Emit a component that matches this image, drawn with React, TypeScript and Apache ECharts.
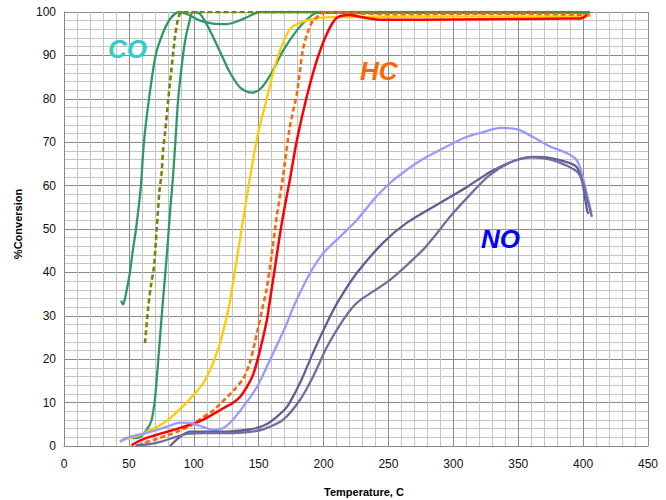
import React, { useEffect, useRef } from "react";
import * as echarts from "echarts";

const xTicks = [0, 50, 100, 150, 200, 250, 300, 350, 400, 450];
const yTicks = [0, 10, 20, 30, 40, 50, 60, 70, 80, 90, 100];

// CO curves
const coA: number[][] = [
  [44, 33.5], [45.5, 32.6], [47, 34], [49, 37], [50.8, 40], [53, 45], [55.5, 50], [57.5, 55],
  [59.3, 60], [61.6, 70], [65.5, 80], [70.6, 90], [76, 95], [82, 98.5], [89, 100], [95, 99.5],
  [105, 98], [115, 97.3], [125, 97.2], [135, 98], [141, 98.8], [151, 100], [200, 100], [250, 100],
  [300, 100], [350, 100], [405, 100],
];
const coB: number[][] = [
  [52, 1.8], [58.5, 2.1], [63.7, 3.7], [67.5, 6], [70, 10.6], [71.4, 15.2], [72.8, 20.5], [74.5, 27],
  [76.3, 33.6], [79.5, 45], [82, 55], [84, 62], [86, 71], [88, 80], [90.5, 87], [93, 92.8],
  [96, 97], [99.5, 100], [105, 99.5], [112, 96], [120, 91], [128, 86], [136, 82.5], [144.6, 81.4],
  [152, 82.5], [160, 86], [169, 91.2], [180, 96], [188, 98.5], [195, 99.8], [250, 99.8],
  [300, 99.8], [350, 99.8], [405, 99.8],
];
const coDash: number[][] = [
  [62.4, 23.7], [64.9, 32], [67, 37], [69.3, 41.3], [71.4, 49.8], [73.4, 58.3], [75.2, 62.9],
  [76.3, 68], [77.8, 72], [80.3, 79.7], [83, 87.3], [85.5, 94.2], [88, 98.5], [90.7, 100],
  [150, 100], [250, 100], [350, 100], [400, 100],
];
// HC curves
const hcYellow: number[][] = [
  [43, 1], [50, 1.8], [58.5, 2.5], [66, 3.6], [74, 4.8], [82, 6.5], [89.4, 8.5], [96, 10.5],
  [102, 12.5], [108, 14.8], [114, 18.5], [120, 23.5], [124, 28], [128, 33.6], [135, 46.5],
  [143, 61.3], [149.5, 72], [156, 79.7], [164, 89], [174, 96], [187, 98], [207, 98.8],
  [250, 98.9], [300, 99], [350, 99], [400, 99], [406, 99.2],
];
const hcDash: number[][] = [
  [57, 0], [61, 0.7], [70, 1.5], [79, 2.4], [88, 3.4], [97, 4.6], [105, 6.2], [115, 8.2],
  [122, 10.2], [130, 12.6], [138, 15.5], [143, 19], [148.7, 26], [152.5, 31.3], [156, 36],
  [160, 44], [164, 53], [168.7, 62], [174, 73.5], [179.5, 81.3], [184, 91.2], [188, 95.5],
  [192, 98], [202.6, 100], [215, 99.8], [250, 99.5], [300, 99.6], [350, 99.6], [400, 99.4],
  [406.8, 99.6],
];
const hcRed: number[][] = [
  [52, 0.2], [58, 1.2], [66, 2.1], [75, 2.9], [84, 3.7], [93, 4.5], [102, 5.4], [110, 6.5],
  [117.6, 7.8], [124, 8.9], [130, 9.9], [135.6, 11.3], [140.7, 13.5], [145.8, 16.5], [151, 22],
  [156.3, 29], [158.7, 33.6], [162, 40], [166, 48], [170, 55], [174, 61.3], [179.5, 70.5],
  [187, 80.4], [195, 89], [202.6, 95], [210, 98.6], [220, 99.3], [233, 98.6], [246, 98.2],
  [300, 98.3], [350, 98.4], [390, 98.5], [398, 98.5], [403, 99.3],
];
// NO curves
const noLight: number[][] = [
  [43, 1], [48, 1.8], [56, 2.5], [66, 3.2], [79, 4.4], [89.4, 5.4], [97, 5.3], [107, 4.4],
  [115, 3.7], [122.5, 4.1], [130, 6], [138, 9], [148.7, 13.6], [158.7, 19.8], [171.8, 28.3],
  [176.7, 32], [189.5, 39.8], [199.7, 44.4], [212.6, 48.2], [225.5, 52], [238.4, 56.7],
  [251.2, 60.6], [264, 63.6], [276, 66], [289.7, 68.2], [310, 71.2], [323, 72.3], [336, 73.3],
  [348.8, 73], [361.4, 71.2], [374.5, 69], [387.3, 67.5], [395, 65.9], [398.9, 62.9],
  [402.7, 58.3], [406.5, 53.7],
];
const noDark: number[][] = [
  [81.7, 0], [89.4, 2.1], [97, 3.3], [112.5, 3.3], [125, 3.3], [143, 3.8], [150, 4.3],
  [156, 5], [163, 6.5], [171.8, 9], [181.8, 14.5], [191.8, 21.4], [202, 28], [211, 33.2],
  [225.5, 39.8], [245.8, 46.8], [264, 51.4], [289.7, 56], [310.5, 59.7], [328, 63.1],
  [336, 64.3], [349, 65.9], [361.4, 66.6], [374, 66.4], [387.5, 65.4], [395, 64.3],
  [399, 61.3], [403, 54.4], [404, 53.5],
];
const noMid: number[][] = [
  [55, 0.2], [65, 0.4], [75, 1], [85, 2], [95, 2.8], [110, 3], [130, 3], [145, 3.3],
  [155, 4], [168.7, 6], [181.8, 10.6], [191.8, 15.9], [202.6, 22.8], [215, 29], [222.7, 32.1],
  [230, 34], [251, 38.2], [276.6, 45.2], [284.6, 48], [297.4, 52.8], [310, 57], [328, 62.4],
  [345, 65.5], [360, 66.5], [375, 66], [388, 64.5], [396, 63], [400, 60.5], [403, 57],
  [406.8, 52.8],
];

const labels = [
  { text: "CO", x: 108, y: 36, color: "#33CCCC" },
  { text: "HC", x: 360, y: 58, color: "#FF6600" },
  { text: "NO", x: 481, y: 226, color: "#0000FF" },
];

export default function App() {
  const ref = useRef<HTMLDivElement>(null);
  useEffect(() => {
    if (!ref.current) return;
    const chart = echarts.init(ref.current, undefined, { renderer: "svg" });
    const mk = (name: string, data: number[][], color: string, dashed = false, width = 2.3) => ({
      name,
      type: "line",
      data,
      smooth: 0.3,
      showSymbol: false,
      symbol: "none",
      lineStyle: { color, width, type: dashed ? [5, 3] : "solid" },
      z: 3,
    });
    chart.setOption({
      animation: false,
      backgroundColor: "#ffffff",
      grid: { left: 64, right: 18, top: 12, bottom: 54, containLabel: false },
      xAxis: {
        type: "value",
        min: xTicks[0],
        max: xTicks[xTicks.length - 1],
        interval: 50,
        axisLine: { show: true, lineStyle: { color: "#888888", width: 1 } },
        axisTick: { show: false },
        axisLabel: {
          color: "#111",
          fontSize: 12,
          fontFamily: "Liberation Sans, Arial, sans-serif",
          margin: 12,
        },
        splitLine: { show: true, lineStyle: { color: "#8c8c8c", width: 1 } },
        minorTick: { show: false, splitNumber: 5 },
        minorSplitLine: { show: true, lineStyle: { color: "#c4c4c4", width: 1 } },
      },
      yAxis: {
        type: "value",
        min: yTicks[0],
        max: yTicks[yTicks.length - 1],
        interval: 10,
        axisLine: { show: true, lineStyle: { color: "#888888", width: 1 } },
        axisTick: { show: false },
        axisLabel: {
          color: "#111",
          fontSize: 12,
          fontFamily: "Liberation Sans, Arial, sans-serif",
          margin: 8,
        },
        splitLine: { show: true, lineStyle: { color: "#8c8c8c", width: 1 } },
        minorTick: { show: false, splitNumber: 5 },
        minorSplitLine: { show: true, lineStyle: { color: "#c4c4c4", width: 1 } },
      },
      series: [
        mk("CO A", coA, "#2E9966"),
        mk("CO B", coB, "#2E9966"),
        mk("CO dashed", coDash, "#808000", true, 2.6),
        mk("HC yellow", hcYellow, "#FFCC00"),
        mk("HC dashed", hcDash, "#FF6600", true, 2.6),
        mk("HC red", hcRed, "#FF0000", false, 2.5),
        mk("NO light", noLight, "#9999FF"),
        mk("NO dark", noDark, "#5E5E94"),
        mk("NO mid", noMid, "#6E6EA0"),
      ],
      graphic: [
        ...labels.map((l) => ({
          type: "text",
          left: l.x,
          top: l.y,
          style: {
            text: l.text,
            fill: l.color,
            font: "italic bold 26px 'Liberation Sans', Arial, sans-serif",
          },
          z: 10,
        })),
        {
          type: "text",
          left: 324,
          top: 486,
          style: {
            text: "Temperature, C",
            fill: "#000",
            font: "bold 11px 'Liberation Sans', Arial, sans-serif",
          },
        },
        {
          type: "text",
          x: 18,
          y: 224,
          rotation: Math.PI / 2,
          style: {
            text: "%Conversion",
            fill: "#000",
            align: "center",
            verticalAlign: "middle",
            font: "bold 11px 'Liberation Sans', Arial, sans-serif",
          },
        },
      ],
    });
    return () => chart.dispose();
  }, []);
  return (
    <div
      ref={ref}
      style={{ position: "fixed", left: 0, top: 0, width: 666, height: 500, background: "#fff" }}
    />
  );
}
